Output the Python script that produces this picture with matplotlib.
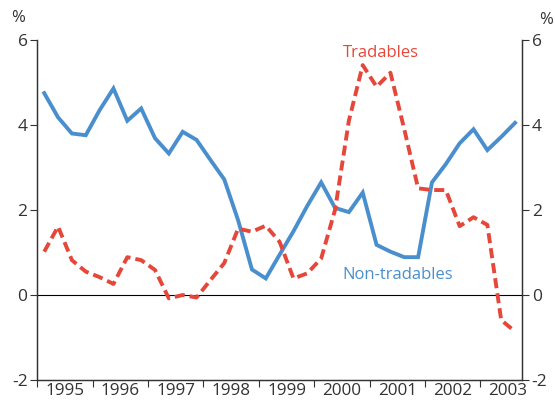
"""
Tradables vs non-tradables inflation, quarterly 1995-2003.
"""

import numpy as np
import matplotlib
matplotlib.use("Agg")
import matplotlib.pyplot as plt

plt.rcParams['font.family'] = ['Open Sans', 'DejaVu Sans']

# ===== DATA =====
start_year = 1995
years = list(range(1995, 2004))

non_tradables = [4.75, 4.18, 3.80, 3.76, 4.35, 4.86, 4.10, 4.39, 3.69, 3.33,
                 3.84, 3.65, 3.18, 2.72, 1.76, 0.60, 0.39, 0.95, 1.50, 2.10,
                 2.65, 2.05, 1.95, 2.41, 1.18, 1.02, 0.89, 0.89, 2.65, 3.08,
                 3.57, 3.90, 3.41, 3.72, 4.05]

tradables = [1.02, 1.61, 0.82, 0.55, 0.42, 0.26, 0.89, 0.82, 0.59, -0.08,
             0.00, -0.06, 0.35, 0.75, 1.56, 1.49, 1.63, 1.25, 0.39, 0.51,
             0.86, 2.00, 4.10, 5.41, 4.90, 5.23, 3.90, 2.51, 2.47, 2.47,
             1.62, 1.83, 1.65, -0.59, -0.86]

y_ticks = [-2, 0, 2, 4, 6]

BLUE = '#4a8fcd'
RED = '#e5483b'
GREY = '#333333'

x = start_year + (np.arange(len(tradables)) + 0.5) / 4

fig = plt.figure(figsize=(5.55, 4.03), dpi=100)
ax = fig.add_axes([0.0672, 0.0571, 0.8733, 0.8436])

ax.plot(x, non_tradables, color=BLUE, linewidth=2.8, solid_joinstyle='miter')
ax.plot(x, tradables, color=RED, linewidth=2.8, dashes=(2.6, 1.3))
ax.axhline(0, color='black', linewidth=0.8, zorder=0)

ax.set_xlim(start_year, 2003.75)
ax.set_ylim(-2, 6)

# year boundaries as tick marks, labels centred in each year
ax.set_xticks(years)
ax.set_xticklabels([])
ax.set_xticks([y + 0.5 for y in years], minor=True)
ax.set_xticklabels([str(y) for y in years], minor=True)
ax.tick_params(axis='x', which='major', direction='out', length=5,
               width=0.8, color=GREY)
ax.tick_params(axis='x', which='minor', length=0, pad=2,
               labelsize=12.3, labelcolor=GREY)

ax.set_yticks(y_ticks)
ax.set_yticklabels([str(v) for v in y_ticks])
ax.tick_params(axis='y', direction='out', length=5, width=0.8, color=GREY,
               labelsize=12.5, labelcolor=GREY, pad=2)

ax2 = ax.twinx()
ax2.set_ylim(-2, 6)
ax2.set_yticks(y_ticks)
ax2.set_yticklabels([str(v) for v in y_ticks])
ax2.tick_params(axis='y', direction='out', length=5, width=0.8, color=GREY,
                labelsize=12.5, labelcolor=GREY, pad=2)

for a in (ax, ax2):
    a.spines['top'].set_visible(False)
    for s in ('left', 'right', 'bottom'):
        a.spines[s].set_color(GREY)
        a.spines[s].set_linewidth(0.9)

# series labels
ax.text(2001.2, 5.69, 'Tradables', color=RED, fontsize=12, ha='center',
        va='center')
ax.text(2001.5, 0.47, 'Non-tradables', color=BLUE, fontsize=12,
        ha='center', va='center')

# unit labels
fig.text(18 / 555, 1 - 18 / 403, '%', color=GREY, fontsize=12,
         ha='center', va='center')
fig.text(546 / 555, 1 - 20 / 403, '%', color=GREY, fontsize=12,
         ha='center', va='center')

fig.savefig('out.png', dpi=100)
plt.close(fig)
